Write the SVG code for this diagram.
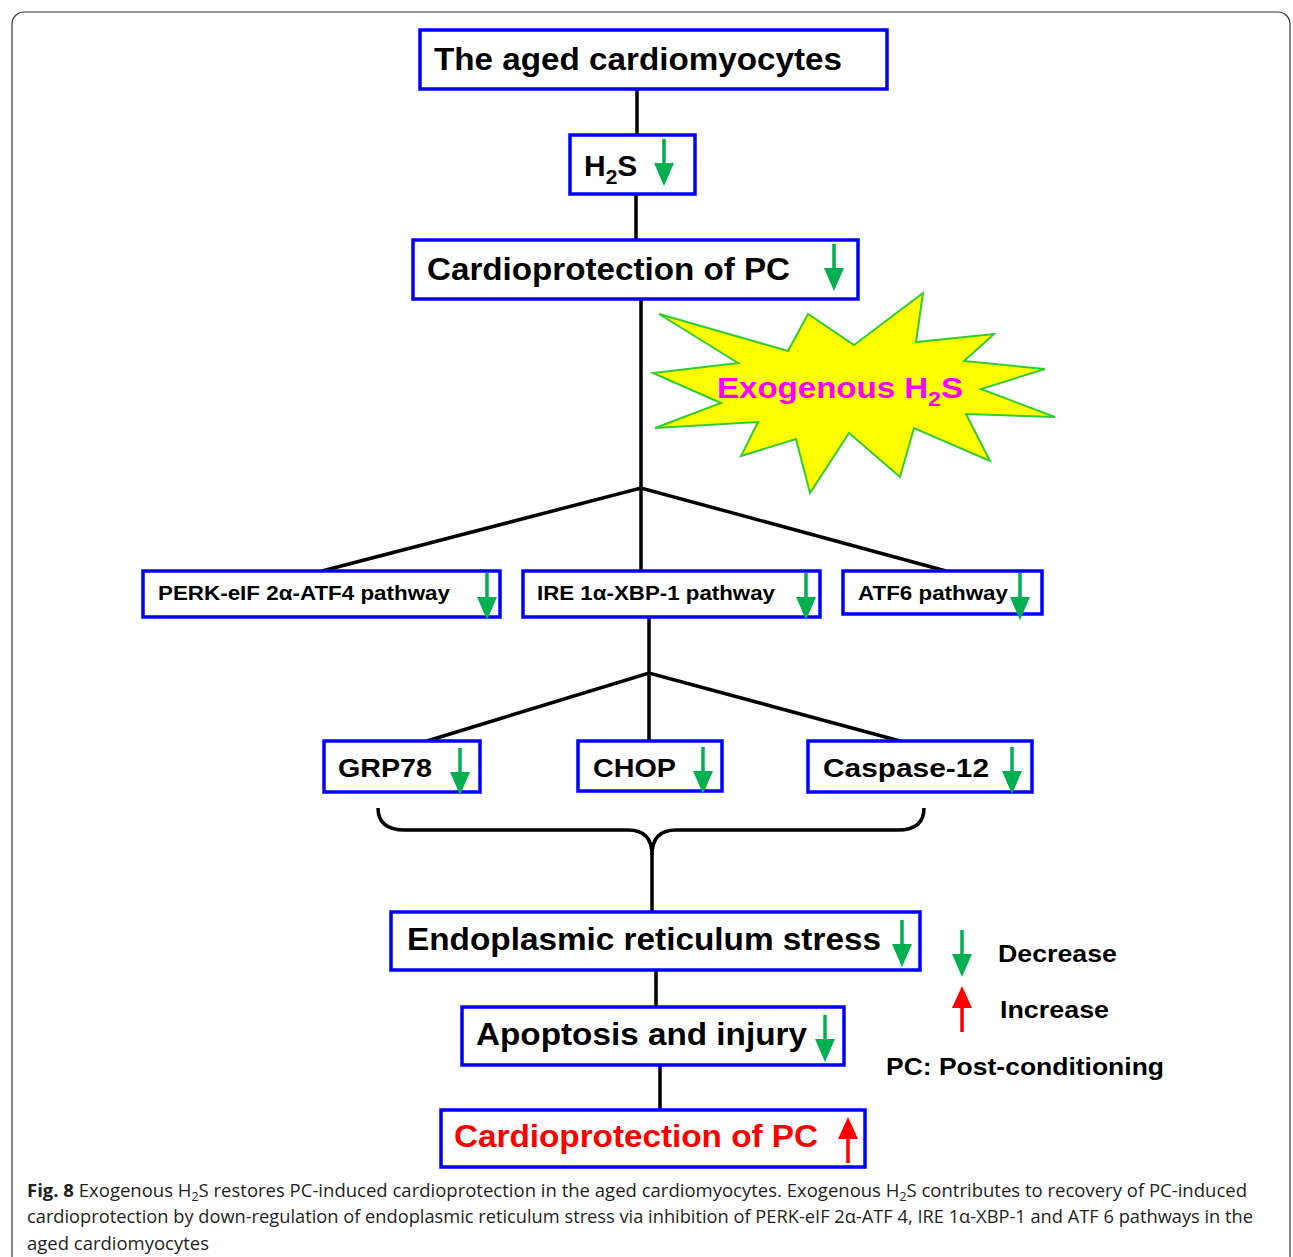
<svg xmlns="http://www.w3.org/2000/svg" width="1293" height="1257" viewBox="0 0 1293 1257">
<defs>
<style>
.box{fill:#fff;stroke:#0000ff;stroke-width:3.5}
.ln{stroke:#000;stroke-width:3.5;fill:none}
.t{font-family:"Liberation Sans",Arial,sans-serif;font-weight:bold;fill:#000}
.ga{stroke:#00b050;stroke-width:3.5;fill:none}
.gh{fill:#00b050}
.ra{stroke:#ff0000;stroke-width:3.5;fill:none}
.rh{fill:#ff0000}
.cap{font-family:"Open Sans","Liberation Sans",sans-serif;font-size:18px;fill:#231f20}
</style>
<g id="down"><line class="ga" x1="0" y1="0" x2="0" y2="28"/><path class="gh" d="M-10,24 L10,24 L0,47 Z"/></g>
<g id="up"><line class="ra" x1="0" y1="46" x2="0" y2="18"/><path class="rh" d="M-10,22 L10,22 L0,0 Z"/></g>
</defs>
<rect x="12" y="12" width="1278" height="1270" rx="12" fill="none" stroke="#333" stroke-width="1.2"/>

<g id="connectors">
<line class="ln" x1="637" y1="89" x2="637" y2="135"/>
<line class="ln" x1="636" y1="194" x2="636" y2="240"/>
<line class="ln" x1="641" y1="299" x2="641" y2="488"/>
<polyline class="ln" points="322,571 641,488 946,571"/>
<line class="ln" x1="641" y1="488" x2="641" y2="571"/>
<line class="ln" x1="649" y1="617" x2="649" y2="741"/>
<polyline class="ln" points="427,741 649,673 900,741"/>
<path class="ln" d="M378,808 Q378,830 405,830 L628,830 Q652,830 652,855 Q652,830 676,830 L898,830 Q924,830 924,808"/>
<line class="ln" x1="652" y1="853" x2="652" y2="912"/>
<line class="ln" x1="656" y1="970" x2="656" y2="1007"/>
<line class="ln" x1="660" y1="1065" x2="660" y2="1110"/>
</g>

<g id="star">
<polygon points="659,314 788,351 808,314 854,345 923,293 916,342 994,334 964,361 1045,369 981,389 1055,417 966,414 990,461 914,428 900,477 849,433 810,493 796,439 741,456 758,422 655,428 721,403 653,373 738,363" fill="#ffff00" stroke="#33cc33" stroke-width="2"/>
<text x="717" y="398" font-family="Liberation Sans,Arial,sans-serif" font-weight="bold" font-size="30" fill="#ff00ff" textLength="246" lengthAdjust="spacingAndGlyphs">Exogenous H<tspan font-size="21" dy="8">2</tspan><tspan dy="-8">S</tspan></text>
</g>

<g id="n1"><rect class="box" x="420" y="30" width="467" height="59"/>
<text class="t" x="434" y="70" font-size="32" textLength="408" lengthAdjust="spacingAndGlyphs">The aged cardiomyocytes</text></g>

<g id="n2"><rect class="box" x="570" y="135" width="125" height="59"/>
<text class="t" x="584" y="176" font-size="30">H<tspan font-size="21" dy="8">2</tspan><tspan dy="-8">S</tspan></text>
<use href="#down" x="664" y="139"/></g>

<g id="n3"><rect class="box" x="413" y="240" width="445" height="59"/>
<text class="t" x="427" y="280" font-size="31" textLength="363" lengthAdjust="spacingAndGlyphs">Cardioprotection of PC</text>
<use href="#down" x="834" y="244"/></g>

<g id="n4"><rect class="box" x="143" y="571" width="357" height="46"/>
<text class="t" x="158" y="600" font-size="21" textLength="292" lengthAdjust="spacingAndGlyphs">PERK-eIF 2α-ATF4 pathway</text>
<use href="#down" x="487" y="573"/></g>

<g id="n5"><rect class="box" x="523" y="571" width="297" height="46"/>
<text class="t" x="537" y="600" font-size="21" textLength="238" lengthAdjust="spacingAndGlyphs">IRE 1α-XBP-1 pathway</text>
<use href="#down" x="806" y="573"/></g>

<g id="n6"><rect class="box" x="843" y="571" width="199" height="43"/>
<text class="t" x="858" y="600" font-size="21" textLength="150" lengthAdjust="spacingAndGlyphs">ATF6 pathway</text>
<use href="#down" x="1020" y="573"/></g>

<g id="n7"><rect class="box" x="324" y="741" width="156" height="51"/>
<text class="t" x="338" y="777" font-size="26" textLength="94" lengthAdjust="spacingAndGlyphs">GRP78</text>
<use href="#down" x="460" y="748"/></g>

<g id="n8"><rect class="box" x="578" y="741" width="144" height="50"/>
<text class="t" x="593" y="777" font-size="26" textLength="83" lengthAdjust="spacingAndGlyphs">CHOP</text>
<use href="#down" x="703" y="747"/></g>

<g id="n9"><rect class="box" x="808" y="741" width="224" height="51"/>
<text class="t" x="823" y="777" font-size="26" textLength="166" lengthAdjust="spacingAndGlyphs">Caspase-12</text>
<use href="#down" x="1012" y="747"/></g>

<g id="n10"><rect class="box" x="391" y="912" width="529" height="58"/>
<text class="t" x="407" y="950" font-size="31" textLength="474" lengthAdjust="spacingAndGlyphs">Endoplasmic reticulum stress</text>
<use href="#down" x="902" y="920"/></g>

<g id="n11"><rect class="box" x="462" y="1007" width="382" height="58"/>
<text class="t" x="476" y="1045" font-size="31" textLength="331" lengthAdjust="spacingAndGlyphs">Apoptosis and injury</text>
<use href="#down" x="825" y="1015"/></g>

<g id="n12"><rect class="box" x="441" y="1110" width="424" height="57"/>
<text class="t" x="454" y="1147" font-size="31" fill="#ff0000" style="fill:#ff0000" textLength="364" lengthAdjust="spacingAndGlyphs">Cardioprotection of PC</text>
<use href="#up" x="848" y="1117"/></g>

<g id="legend">
<use href="#down" x="962" y="930"/>
<text class="t" x="998" y="962" font-size="24" textLength="119" lengthAdjust="spacingAndGlyphs">Decrease</text>
<use href="#up" x="962" y="986"/>
<text class="t" x="1000" y="1018" font-size="24" textLength="109" lengthAdjust="spacingAndGlyphs">Increase</text>
<text class="t" x="886" y="1075" font-size="24" textLength="278" lengthAdjust="spacingAndGlyphs">PC: Post-conditioning</text>
</g>

<g id="caption">
<text class="cap" x="27" y="1197" textLength="1220" lengthAdjust="spacingAndGlyphs"><tspan font-weight="bold">Fig. 8</tspan>  Exogenous H<tspan font-size="12" dy="4">2</tspan><tspan dy="-4">S restores PC-induced cardioprotection in the aged cardiomyocytes. Exogenous H</tspan><tspan font-size="12" dy="4">2</tspan><tspan dy="-4">S contributes to recovery of PC-induced</tspan></text>
<text class="cap" x="27" y="1223" textLength="1226" lengthAdjust="spacingAndGlyphs">cardioprotection by down-regulation of endoplasmic reticulum stress via inhibition of PERK-eIF 2α-ATF 4, IRE 1α-XBP-1 and ATF 6 pathways in the</text>
<text class="cap" x="27" y="1250" textLength="182" lengthAdjust="spacingAndGlyphs">aged cardiomyocytes</text>
</g>
</svg>
